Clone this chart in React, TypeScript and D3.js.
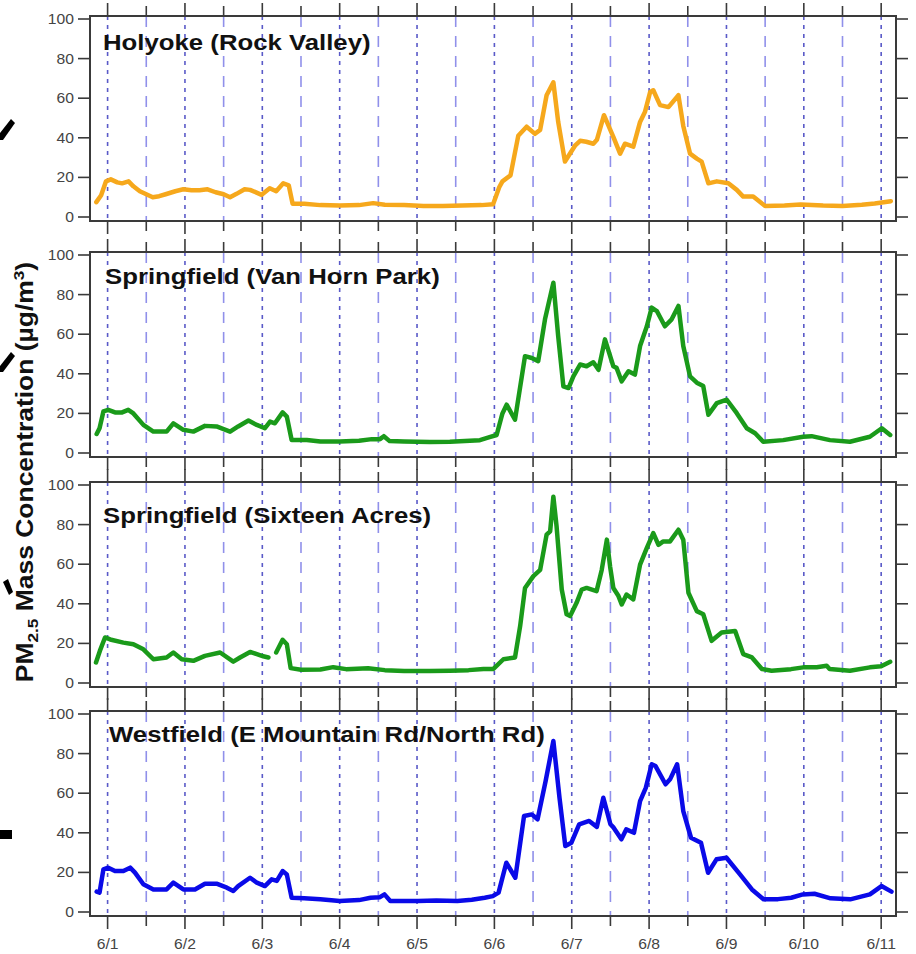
import { useRef, useEffect } from 'react';
import * as d3 from 'd3';

// [hours after 6/1 00:00, PM2.5 µg/m3]; null marks a gap in the record
type Point = [number, number | null];

const holyoke: Point[] = [
  [-3.5, 7.5], [-2, 11], [-0.5, 18], [1, 19], [3, 17.5], [4.5, 17], [6.5, 18], [8, 15.5], [10, 13], [12, 11.5],
  [14, 10], [16, 10.5], [18, 11.5], [21, 13], [23.5, 14], [26, 13.5], [28.5, 13.5], [31, 14], [33.5, 12.5], [36, 11.5],
  [38, 10], [40, 11.7], [42.5, 14], [44.2, 13.7], [47.8, 11.2], [50.3, 14.5], [52.3, 13], [54.5, 17], [56.2, 16],
  [57.4, 6.7], [61, 6.7], [66, 6], [72, 5.8], [78, 6], [82.4, 7], [86, 6.2], [92, 6], [98, 5.6], [104, 5.6],
  [110, 5.8], [116, 6], [119.6, 6.4], [121.5, 15], [122.5, 18], [125, 21], [127.4, 41], [130, 45.6], [132.6, 42],
  [134.2, 44], [136.2, 61.5], [138.3, 68], [139.8, 48], [141.9, 28], [145, 36], [146.6, 38.5], [148.5, 38], [150.7, 37],
  [151.8, 39], [154, 51.4], [156.9, 40.5], [159, 32], [160.5, 37], [163.1, 35.5], [165.2, 48], [166.7, 53], [168.3, 63],
  [169.3, 64], [171.4, 56.5], [174, 55.5], [177.1, 61.5], [178.6, 46], [180.7, 32], [182.8, 29.5], [184.3, 28],
  [186.4, 17], [189, 18], [192.6, 17], [195.2, 13.7], [197.2, 10.3], [200.3, 10.3], [204, 5.5], [210, 5.8], [215, 6.3],
  [222, 5.8], [228, 5.6], [234, 6.2], [238, 6.8], [243, 8],
];

const vanHornPark: Point[] = [
  [-3.4, 9.6], [-2.5, 12.5], [-1.3, 21], [0.2, 21.8], [2.3, 20.5], [4.5, 20.5], [6.4, 21.8], [8, 20], [11.1, 14.2],
  [14.2, 10.8], [18.3, 10.8], [20.4, 15], [23.5, 11.7], [26.6, 10.8], [30.2, 13.7], [33.8, 13.4], [38, 10.8],
  [40.5, 13.4], [43.7, 16.4], [46.3, 14.2], [48.8, 12.5], [50.4, 15.9], [51.9, 15], [54.3, 20.5], [55.6, 18.4],
  [57.1, 6.6], [61.8, 6.6], [66, 5.8], [72, 5.8], [78, 6.2], [82, 7], [84.5, 7], [85.7, 8.5], [87.5, 6], [92, 5.8],
  [100, 5.6], [106.2, 5.7], [115.5, 6.5], [118.5, 8], [120.7, 9.1], [122.5, 20], [123.8, 24.4], [126.4, 16.8],
  [129.5, 48.9], [131.6, 48], [133.6, 46.4], [135.7, 67.5], [138.3, 86], [139.8, 59], [141.4, 33.7], [143, 32.8],
  [144.5, 38.7], [146.6, 44.7], [148.6, 43.8], [150.7, 45.8], [152.3, 42], [154.3, 57.4], [156.9, 43.8], [157.9, 43],
  [159.5, 36.2], [161.6, 41.3], [163.6, 39.6], [165.2, 54], [167.3, 64], [168.8, 73.4], [170.4, 71.7], [172.9, 64],
  [175, 67.5], [177.1, 74.3], [178.6, 54], [180.7, 38.7], [182.8, 35.5], [184.8, 33.8], [186.4, 19.3], [189, 25.2],
  [192.1, 26.9], [195.2, 20.1], [198.3, 12.5], [200.9, 10], [203.4, 5.7], [209.6, 6.5], [215.8, 8.2], [218.4, 8.5],
  [224.1, 6.5], [230.3, 5.7], [236.5, 8.2], [240.2, 12.5], [242.8, 9.1],
];

const sixteenAcres: Point[] = [
  [-3.6, 10.4], [-2.4, 16.2], [-0.8, 23], [0.8, 22], [4.9, 20.4], [8, 19.6], [11.1, 17], [14.2, 12], [18.3, 12.9],
  [20.4, 15.4], [23, 12], [26.6, 11.2], [30.2, 13.7], [34.9, 15.4], [39, 10.8], [41.1, 12.9], [44.2, 15.7],
  [46.3, 14.6], [48.3, 13.5], [49.9, 12.9], [51, null], [52.3, 15.4], [54.3, 21.8], [55.6, 19.6], [56.8, 7.5],
  [60, 6.7], [66, 6.8], [70, 8], [74, 7], [80.8, 7.4], [86, 6.5], [92, 6], [100, 6], [106.2, 6.2], [112, 6.5],
  [116.6, 7.1], [119.7, 7.1], [122.8, 12], [126.4, 12.9], [128, 28.8], [129.5, 48], [132.1, 54], [134.2, 57.1],
  [136.2, 74.9], [137.3, 76.6], [138.3, 94.1], [139.3, 79], [140.9, 47.2], [142.4, 34.7], [143.5, 33.8], [145.5, 40.5],
  [147.1, 47.2], [148.6, 48], [151.7, 46.4], [153.3, 57.1], [154.9, 72.4], [155.9, 58.8], [156.9, 48], [158.5, 43.9],
  [159.5, 39.7], [161, 44.7], [163.1, 42.2], [165.2, 59.8], [167.3, 68.2], [169.3, 75.7], [170.9, 69.8], [172.4, 71.5],
  [174.5, 71.5], [177.1, 77.4], [178.6, 72.4], [180.2, 45.6], [182.8, 36.3], [184.8, 34.7], [187.4, 21.3],
  [190.5, 25.5], [194.7, 26.3], [197.2, 14.6], [199.9, 12.9], [203, 7.1], [206, 6.2], [212, 7], [215.8, 7.9],
  [220, 8], [223.1, 8.7], [224, 7.1], [230.3, 6.2], [236.5, 7.9], [240, 8.5], [242.8, 10.7],
];

const westfield: Point[] = [
  [-3.4, 10.3], [-2.5, 9.8], [-1.3, 21.5], [0.2, 22.4], [2.3, 20.7], [4.9, 20.7], [7, 22.4], [8.5, 19.9], [11.1, 14],
  [14.2, 11.4], [18.3, 11.4], [20.4, 14.8], [23.5, 11.4], [27.1, 11.4], [30.2, 14.3], [33.8, 14.3], [37, 12.3],
  [39, 10.6], [40.5, 13.1], [44.2, 17.3], [46.3, 14.8], [48.8, 13.1], [50.9, 16.5], [52.5, 15.7], [54.3, 20.7],
  [55.6, 19], [57.1, 7.2], [61, 6.9], [66, 6.4], [72, 5.6], [78, 6], [81.6, 7.2], [84.5, 7.5], [85.9, 8.9], [87.7, 5.6],
  [92, 5.6], [96.3, 5.6], [102, 5.8], [108.5, 5.6], [113, 6.2], [117, 7.2], [119.5, 8], [121.3, 9.8], [123.7, 24.9],
  [126.5, 17.3], [129.2, 48.5], [131.6, 49.3], [133.4, 46.8], [135.9, 66.2], [138.3, 86.4], [140.2, 57.7], [142, 33.3],
  [143.9, 35], [146.3, 44.3], [149.4, 46], [151.8, 43], [153.8, 57.7], [156, 44.3], [157, 42.6], [159.4, 36.7],
  [160.9, 41.7], [163.3, 40], [165.2, 56], [167, 62.8], [168.8, 74.6], [170, 73.7], [173.1, 64.5], [174.5, 67],
  [176.7, 74.6], [178.6, 51], [181, 37.5], [184.1, 35], [186.3, 19.8], [188.9, 26.6], [192, 27.4], [196.2, 19],
  [199.9, 11.4], [203.5, 6.4], [208, 6.5], [212.1, 7.2], [215.7, 8.9], [219.3, 9.2], [224.3, 6.9], [230.4, 6.4],
  [236.5, 8.9], [240.1, 13.1], [243.2, 10.3],
];

const siteNames = [
  'Holyoke (Rock Valley)',
  'Springfield (Van Horn Park)',
  'Springfield (Sixteen Acres)',
  'Westfield (E Mountain Rd/North Rd)',
];
const siteSeries = [holyoke, vanHornPark, sixteenAcres, westfield];
const siteColors = ['#f6a81c', '#1a9a1a', '#1a9a1a', '#0a0ae8'];

const dayLabels = ['6/1', '6/2', '6/3', '6/4', '6/5', '6/6', '6/7', '6/8', '6/9', '6/10', '6/11'];
const yTicks = [0, 20, 40, 60, 80, 100];

const START = new Date(2023, 5, 1);
const at = (h: number) => new Date(START.getTime() + h * 3600 * 1000);

export default function App() {
  const svgRef = useRef<SVGSVGElement>(null);

  useEffect(() => {
    const svg = d3.select(svgRef.current);
    svg.selectAll('*').remove();

    const width = 916;
    const height = 954;
    const left = 90;
    const right = 896;
    const panelTops = [16, 252, 482, 711];
    const panelH = 205;
    const font = 'Arial, "Liberation Sans", sans-serif';
    const stretch = 1.12;

    svg.attr('width', width).attr('height', height);

    const x = d3.scaleTime().domain([at(-5.46), at(244.6)]).range([left, right]);
    const halfDays = d3.range(0, 241, 12);

    // black marks cut off at the left edge of the original figure
    const marks = svg.append('g').attr('fill', '#000');
    marks.append('path').attr('d', 'M0,133 L11,119 L15,123 L3,140 L0,140 Z');
    marks.append('path').attr('d', 'M0,366 L11,352 L15,356 L3,372 L0,372 Z');
    marks.append('path').attr('d', 'M3,582 L8,579 L13,592 L9,595 Z');
    marks.append('rect').attr('x', 0).attr('y', 830).attr('width', 12).attr('height', 9);

    siteSeries.forEach((series, i) => {
      const top = panelTops[i];
      const bottom = top + panelH;
      const y = d3.scaleLinear().domain([0, 100]).range([top + 201, top + 3]);
      const g = svg.append('g');

      // dashed day / half-day guides
      g.selectAll('line.grid')
        .data(halfDays)
        .join('line')
        .attr('x1', (h) => x(at(h)))
        .attr('x2', (h) => x(at(h)))
        .attr('y1', top)
        .attr('y2', bottom)
        .attr('stroke', (h) => (h % 24 === 0 ? '#5a5ac8' : '#9090ea'))
        .attr('stroke-width', 1.6)
        .attr('stroke-dasharray', (h) => (h % 24 === 0 ? '4,5' : '11,9'));

      const line = d3.line<Point>()
        .defined((d) => d[1] !== null)
        .x((d) => x(at(d[0])))
        .y((d) => y(d[1] as number));

      g.append('path')
        .datum(series)
        .attr('d', line)
        .attr('fill', 'none')
        .attr('stroke', siteColors[i])
        .attr('stroke-width', 4.5)
        .attr('stroke-linejoin', 'round')
        .attr('stroke-linecap', 'round');

      // frame
      g.append('rect')
        .attr('x', left)
        .attr('y', top)
        .attr('width', right - left)
        .attr('height', panelH)
        .attr('fill', 'none')
        .attr('stroke', '#3a3a3a')
        .attr('stroke-width', 2);

      // x ticks on top and bottom, outward
      [top, bottom].forEach((edge, k) => {
        const dir = k === 0 ? -1 : 1;
        g.selectAll(null)
          .data(halfDays)
          .join('line')
          .attr('x1', (h) => x(at(h)))
          .attr('x2', (h) => x(at(h)))
          .attr('y1', edge)
          .attr('y2', (h) => edge + dir * (h % 24 === 0 ? 13 : 10))
          .attr('stroke', '#3a3a3a')
          .attr('stroke-width', 1.6);
      });

      // y ticks, both sides
      g.selectAll(null)
        .data(yTicks)
        .join('line')
        .attr('x1', left - 12)
        .attr('x2', left)
        .attr('y1', (v) => y(v))
        .attr('y2', (v) => y(v))
        .attr('stroke', '#3a3a3a')
        .attr('stroke-width', 1.6);
      g.selectAll(null)
        .data(yTicks)
        .join('line')
        .attr('x1', right)
        .attr('x2', right + 12)
        .attr('y1', (v) => y(v))
        .attr('y2', (v) => y(v))
        .attr('stroke', '#3a3a3a')
        .attr('stroke-width', 1.6);

      g.selectAll(null)
        .data(yTicks)
        .join('text')
        .attr('transform', (v) => `translate(${left - 16},${y(v) + 5}) scale(${stretch},1)`)
        .attr('text-anchor', 'end')
        .attr('font-family', font)
        .attr('font-size', 14)
        .attr('fill', '#444')
        .text((v) => v);

      const titleX = [103, 105, 103, 109][i];
      const titleY = [top + 34, top + 32, top + 41, top + 31][i];
      g.append('text')
        .attr('transform', `translate(${titleX},${titleY}) scale(${stretch},1)`)
        .attr('font-family', font)
        .attr('font-size', 23)
        .attr('font-weight', 'bold')
        .attr('fill', '#111')
        .text(siteNames[i]);

      if (i === siteSeries.length - 1) {
        g.selectAll(null)
          .data(dayLabels)
          .join('text')
          .attr('transform', (_d, j) => `translate(${x(at(j * 24))},${bottom + 33}) scale(${stretch},1)`)
          .attr('text-anchor', 'middle')
          .attr('font-family', font)
          .attr('font-size', 14)
          .attr('fill', '#444')
          .text((d) => d);
      }
    });

    // shared y label
    const yl = svg.append('text')
      .attr('transform', `translate(33,472) rotate(-90) scale(1.15,1)`)
      .attr('text-anchor', 'middle')
      .attr('font-family', font)
      .attr('font-size', 23)
      .attr('font-weight', 'bold')
      .attr('fill', '#111');
    yl.append('tspan').text('PM');
    yl.append('tspan').attr('font-size', 15).attr('dy', 5).text('2.5');
    yl.append('tspan').attr('dy', -5).text(' Mass Concentration (µg/m');
    yl.append('tspan').attr('font-size', 15).attr('dy', -9).text('3');
    yl.append('tspan').attr('dy', 9).text(')');
  }, []);

  return (
    <div style={{ position: 'absolute', left: 0, top: 0, width: 916, height: 954, background: '#fff' }}>
      <svg ref={svgRef} style={{ display: 'block' }} />
    </div>
  );
}
